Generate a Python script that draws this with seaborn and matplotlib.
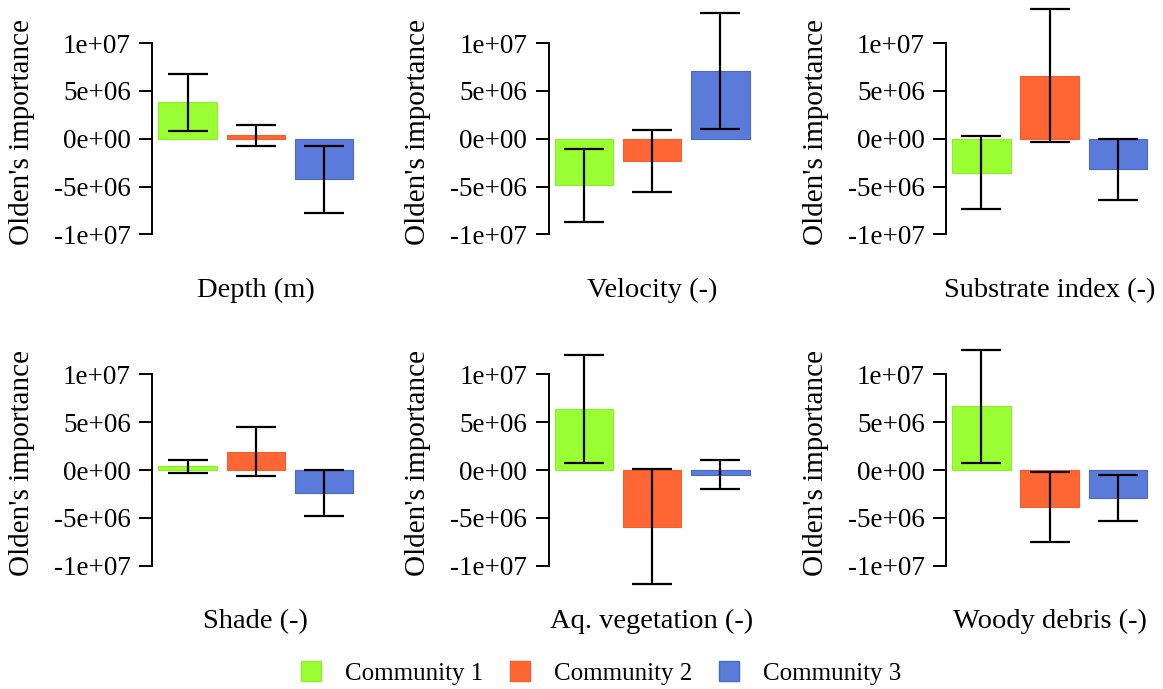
import matplotlib
matplotlib.use("Agg")
import matplotlib.pyplot as plt
from matplotlib.patches import Patch
import seaborn as sns
import pandas as pd

# ---- data ----
variables = ["Depth (m)", "Velocity (-)", "Substrate index (-)",
             "Shade (-)", "Aq. vegetation (-)", "Woody debris (-)"]
communities = ["Community 1", "Community 2", "Community 3"]

mean_c1 = [3.80e6, -4.85e6, -3.55e6, 0.38e6, 6.36e6, 6.65e6]
mean_c2 = [0.35e6, -2.35e6, 6.60e6, 1.93e6, -5.93e6, -3.90e6]
mean_c3 = [-4.22e6, 7.10e6, -3.19e6, -2.42e6, -0.47e6, -2.92e6]

err_c1 = [2.95e6, 3.82e6, 3.84e6, 0.70e6, 5.66e6, 5.92e6]
err_c2 = [1.07e6, 3.26e6, 6.92e6, 2.55e6, 6.03e6, 3.68e6]
err_c3 = [3.50e6, 6.10e6, 3.21e6, 2.39e6, 1.48e6, 2.39e6]

ytick_values = [-1e7, -5e6, 0, 5e6, 1e7]
ytick_labels = ["-1e+07", "-5e+06", "0e+00", "5e+06", "1e+07"]

colors = ["#99FF33", "#FF6633", "#5A7BD9"]
edges = ["#8EEE2C", "#F55E2E", "#4A69C6"]

# ---- style ----
sns.set_style("white")
plt.rcParams["font.family"] = ["Liberation Serif", "DejaVu Serif"]
plt.rcParams["text.color"] = "black"
plt.rcParams["axes.labelcolor"] = "black"
plt.rcParams["ytick.color"] = "black"

W, H = 1163, 689
fig = plt.figure(figsize=(W / 100, H / 100), dpi=100)

lefts_px = [152.5, 548.7, 946.3]
tops_px = [0.1, 331.4]
ax_w_px, ax_h_px = 206.7, 262.9

means = [mean_c1, mean_c2, mean_c3]
errs = [err_c1, err_c2, err_c3]

for i, var in enumerate(variables):
    r, c = divmod(i, 3)
    left = lefts_px[c] / W
    bottom = (H - tops_px[r] - ax_h_px) / H
    ax = fig.add_axes([left, bottom, ax_w_px / W, ax_h_px / H])

    df = pd.DataFrame({
        "community": communities,
        "value": [means[k][i] for k in range(3)],
        "err": [errs[k][i] for k in range(3)],
    })
    sns.barplot(data=df, x="community", y="value", hue="community",
                palette=colors, width=0.856, legend=False, ax=ax,
                errorbar=None, saturation=1, linewidth=0.8)
    for k, patch in enumerate(ax.patches):
        patch.set_edgecolor(edges[k])
    ax.errorbar(range(3), df["value"], yerr=df["err"], fmt="none",
                ecolor="black", elinewidth=1.6, capsize=14.4,
                capthick=1.6, zorder=5)

    ax.set_xlim(-0.513, 2.513)
    ax.set_ylim(-1.3e7, 1.45e7)
    ax.set_yticks(ytick_values)
    ax.set_yticklabels(ytick_labels)
    ax.set_xticks([])
    ax.set_xlabel("")
    ax.set_ylabel("Olden's importance", fontsize=21, color="black")
    ax.yaxis.set_label_coords(-0.568, 0.5)
    ax.tick_params(axis="y", length=9.5, width=1.4, pad=6,
                   labelsize=19.5, direction="out", left=True,
                   colors="black", labelcolor="black")
    sns.despine(ax=ax, bottom=True)
    ax.spines["left"].set_bounds(-1e7, 1e7)
    ax.spines["left"].set_linewidth(1.4)
    ax.spines["left"].set_color("black")
    ax.patch.set_alpha(0)
    ax.text(0.5, -0.105, var, transform=ax.transAxes, ha="center",
            va="center", fontsize=20.5, color="black")

handles = [Patch(facecolor=colors[k], edgecolor=edges[k]) for k in range(3)]
fig.legend(handles, communities, loc="center", bbox_to_anchor=(0.517, 0.0232),
           ncol=3, frameon=False, fontsize=18, handlelength=0.8,
           handleheight=0.8, handletextpad=0.96, columnspacing=1.08,
           labelcolor="black")

fig.savefig("out.png", dpi=100, facecolor="white")
